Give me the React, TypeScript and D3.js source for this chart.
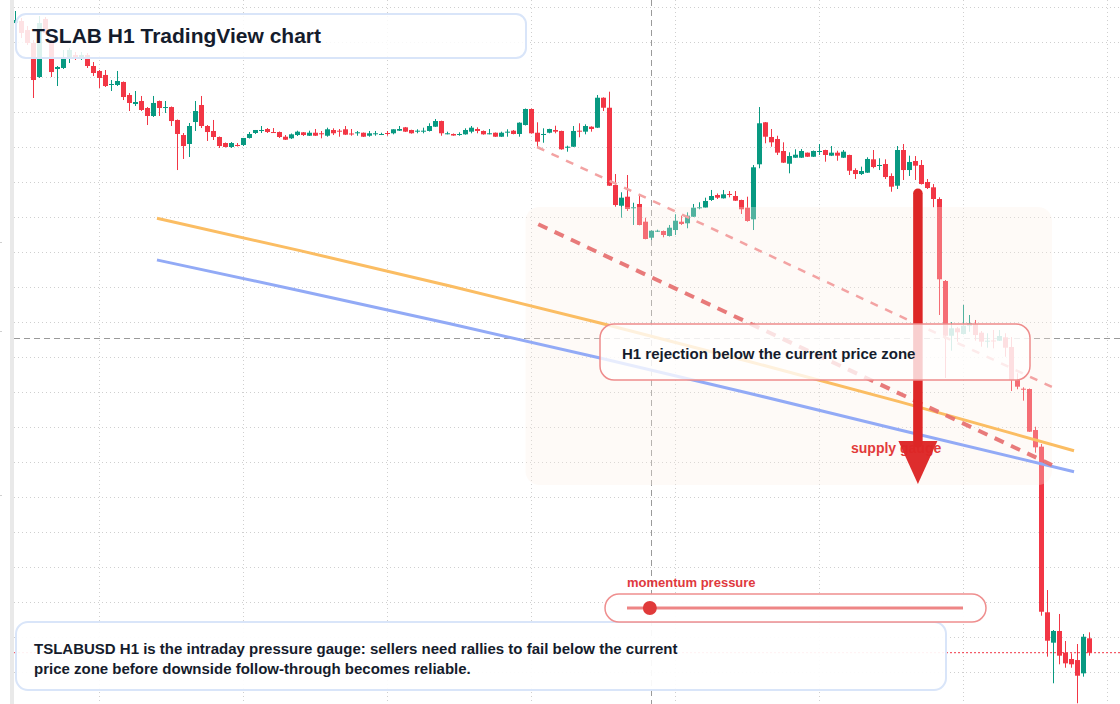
import React from 'react';
import * as d3 from 'd3';

const W = 1120;
const H = 704;

// Hourly OHLC bars, index 0..179 (prices)
const opens = [437.71,438,436.71,434.86,430,438.29,434.86,431.14,431.29,432.71,433.14,432.57,433.14,431.57,430.86,430.29,428.93,428.86,429.29,427.43,426.14,426.57,425.57,424.43,426.57,425.64,425.71,423.86,421.71,420.43,423.57,426,423,422.29,421.43,420.57,420,420.29,420.29,421.29,422,422.29,422.57,422.14,422.14,421.47,421.24,421.71,422.1,421.61,422.04,421.96,421.61,422.43,422.33,422.53,421.93,422.04,422.04,421.61,421.9,421.81,422,421.96,422.33,422.81,422.43,422.29,422.29,422.29,422.9,423.71,421.9,421.86,421.81,421.81,422.19,422.57,422.29,421.9,422.04,421.47,422.14,422.33,421.86,423.14,425.43,422.04,421.81,422.04,422.43,422.29,420,420.04,422.33,422.19,422.9,422.76,427.04,425.61,414.57,411.61,412.9,411.34,411.86,409.33,407.04,407.96,408,407.29,408.14,409.33,409.1,410.04,411.33,411.33,412.43,413.14,412.67,413.29,413,412.43,411.33,409.67,417.53,423.53,421.43,421.14,419.43,417.61,418.47,418.47,419.19,418.61,419.39,419.57,418.76,419.19,418.47,418.86,416.71,416.14,416.33,418.24,417.39,417.57,415.86,414.47,419.57,416.71,418,417.43,415,414.24,412.57,400.86,393.04,394.1,393.29,394.47,394.71,393.47,392.29,392.36,392.33,392.81,391.43,386.71,385.47,385.43,379.57,377.19,353.53,349.19,350.86,347.76,346.86,346.71,344.81,349.81];
const highs = [439.43,438.43,437.29,435.29,438.71,438.57,435.29,431.57,433.86,434.14,433.57,433.57,433.43,432.14,431,431,429.57,430.86,429.36,427.71,428,427.29,425.71,427.29,426.64,426.57,425.79,423.93,422,423.43,426.57,427.29,423.14,423.86,421.5,420.64,420.71,420.57,421.29,422.14,422.43,423,422.71,422.71,422.21,421.71,421.93,422.33,422.14,422.33,422.57,422.29,422.76,422.67,422.57,423,422.57,422.29,422.07,422.29,422.29,422.04,422.29,422.53,423,422.86,422.47,422.53,422.76,423.39,424,423.76,422.19,421.93,422.1,422.67,423,422.81,422.36,422.57,422.07,422.19,422.53,422.43,423.53,425.5,425.5,423.53,422.67,422.61,423.04,422.33,420.19,423,423.39,423.24,422.96,427.43,427.1,427.9,416.14,413.53,416,412.04,413.04,409.9,408.07,408.19,408.07,408.86,410.39,410.19,410.67,411.86,412.1,412.76,413.86,413.36,413.86,413.71,413.71,412.47,412.9,417.43,425.71,423.57,422.57,421.61,420.67,419.24,419.67,419.71,419.21,419.5,420.43,419.61,420.14,419.47,419.57,418.9,416.96,417.19,418.53,419.57,418.39,418.24,416.24,420.14,420.43,418.76,418.71,418.14,415.43,414.71,412.81,401,395,394.29,397.43,396,395.29,393.71,393.39,393.86,393.86,393.39,392.86,387.67,385.67,385.5,380.04,377.57,356.71,351,353.29,349.43,347.67,349,350.43,350.67];
const lows = [437.57,435.57,434.57,427,429.86,436,430,428.71,431.14,432,432.43,432.43,431.29,430.14,428.43,428.57,428,428.71,426.71,425.14,425.86,425.14,423.14,424.29,424.43,424.86,423,416.71,418.29,418.57,422.29,422.71,420.86,421,419.86,419.93,419.86,420.07,420.14,421.21,421.86,422,422,422,421.29,421,421.14,421.57,421.57,421.57,421.57,421.24,421.47,421.71,421.47,421.71,421.61,421.61,421.43,421.47,421.61,421.71,421.61,421.81,422.29,422.14,421.91,421.96,421.96,422.21,422.86,421.61,421.81,421.61,421.61,421.76,421.96,421.96,421.76,421.81,421.43,421.43,421.47,421.81,421.47,423.07,421.9,420.04,420.61,421.96,421.96,419.61,419.33,420,421.39,421.81,422.19,422.71,425.14,414.43,411.47,409.9,410.86,408.86,408.81,406.81,406.71,407.86,407.1,407.21,407.43,408.86,408.39,410,411.1,411.29,412.29,412.57,412.64,412.81,412.29,410.43,409.33,408.14,416.96,420.53,420.04,418.86,417.71,416.24,418.43,418.43,418.57,418.57,418.86,417.9,418.71,418.04,418.43,416,415.43,416,416.29,416.96,416.71,415.43,413.61,414,415.29,415.86,415.29,414.64,414,411.39,396,387,390.9,392.19,393.21,393.61,392.33,391.47,391.33,391.24,392.29,390.04,385.14,385.39,383.76,379.29,376.33,353.04,347.19,343.39,346.1,345.61,345.61,340.53,344.33,347.33];
const closes = [438.14,436.29,434.86,429.57,437.71,436.29,430.71,431.43,432.71,433.86,432.86,433.14,431.57,430.57,429.86,428.71,429,429.43,427.14,426.29,426.43,425.29,424.43,426.29,425.57,425.71,423.71,421.86,420.14,423,425.14,423,422.14,421.43,420.14,420,420.57,420.14,421.29,421.86,422.43,422.43,422.14,422.07,421.43,421.04,421.81,422.19,421.71,422.04,421.61,421.9,422.53,421.96,422.24,421.76,421.86,422.1,421.47,421.96,421.96,421.86,421.96,422.53,422.57,422.19,421.96,422.33,422.33,423,423.71,421.96,421.96,421.64,421.86,422.43,422.76,422.29,421.81,421.96,421.47,422.04,422.19,421.86,423.47,425.43,421.96,420.76,421.86,422.57,422.19,419.67,420.04,422.29,422.24,423,422.57,427.04,425.61,414.47,411.71,412.76,411.14,411.39,408.86,406.86,408.04,408.04,407.43,408.47,409.47,409,410.19,411.33,411.39,412.29,413,412.76,413.24,413.21,412.33,411.1,409.43,417.1,423.39,421.47,420.67,419.19,417.76,418.71,418.9,419.43,418.61,419.43,419.43,418.86,419.19,418.76,419.33,416.61,416.14,416.57,418.29,417.14,417.43,415.71,414.33,419.57,416.71,417.86,417.33,414.71,414.14,412.57,401.1,393.04,394.1,393.53,394.47,394.81,393.14,392.19,392.33,392.29,393,391.33,386.71,385.76,385.39,379.33,377.1,353.61,349.47,350.86,347.33,346.24,346.1,344.47,350.04,347.76];

// Smoothed average overlays (bar index, price)
const maIndex = [23.58, 47.42, 72.42, 97.42, 122.42, 147.42, 176.42];
const orangeMA = [409.81, 405.2, 400.14, 394.86, 389.33, 383.59, 376.61];
const blueMA = [403.86, 399.47, 394.74, 389.87, 384.79, 379.57, 373.61];

// Trend lines [start index, start price, end index, end price]
const upperTrend = [86.92, 420.0, 172.75, 385.71];
const lowerTrend = [87.13, 408.96, 172.75, 374.57];

// Supply zone
const zoneIdx = [85.0, 172.75];
const zonePrice = [411.43, 371.71];

// Arrow (bar index, top price, head price, tip price)
const arrowIdx = 150.4;
const arrowPrices = [413.39, 378.0, 371.86];

// Grid / crosshair
const gridPriceTop = 440;
const gridPriceBottom = 345;
const gridStep = 5;
const gridBarIdx = [14, 38, 62, 86, 110, 134, 158, 182];
const crossIdx = 106;
const crossPrice = 392.71;

const momentumValue = 0.068;

const titleText = 'TSLAB H1 TradingView chart';
const noteText = 'H1 rejection below the current price zone';
const zoneLabel = 'supply gauge';
const momentumLabel = 'momentum pressure';
const footerLines = [
  'TSLABUSD H1 is the intraday pressure gauge: sellers need rallies to fail below the current',
  'price zone before downside follow-through becomes reliable.',
];

const RED = '#f23645';
const GREEN = '#089981';
const FONT = '"Liberation Sans", Arial, Helvetica, sans-serif';
const DARK = '#151c2c';

export default function App() {
  const x = d3.scaleLinear().domain([0, 179]).range([15.5, 1089.5]);
  const y = d3.scaleLinear().domain([340.43, 441]).range([704, 0]);
  const gridPrices = d3.range(gridPriceTop, gridPriceBottom - 0.01, -gridStep);

  const line = d3
    .line<number>()
    .x((_, i) => x(maIndex[i]))
    .curve(d3.curveMonotoneX);
  const orangePath = line.y((d) => y(d))(orangeMA) as string;
  const bluePath = line.y((d) => y(d))(blueMA) as string;

  const mScale = d3.scaleLinear().domain([0, 1]).range([627, 963]);

  const ax = x(arrowIdx);
  const aTop = y(arrowPrices[0]);
  const aBase = y(arrowPrices[1]);
  const aTip = y(arrowPrices[2]);

  const lastClose = closes[closes.length - 1];

  return (
    <svg
      width={W}
      height={H}
      style={{ position: 'fixed', left: 0, top: 0, background: '#fff', fontFamily: FONT }}
    >
      <defs>
        <clipPath id="plot">
          <rect x={14} y={0} width={W - 14} height={H} />
        </clipPath>
      </defs>
      <rect x={0} y={0} width={W} height={H} fill="#fff" />
      <rect x={10} y={0} width={4} height={H} fill="#e9e9e9" />
      {[242, 331, 495].map((t) => (
        <line key={t} x1={0} x2={2} y1={t + 0.5} y2={t + 0.5} stroke="#d0d0d0" />
      ))}

      <g clipPath="url(#plot)">
        {gridPrices.map((p) => (
          <line
            key={'h' + p}
            x1={14}
            x2={W}
            y1={Math.round(y(p)) + 0.5}
            y2={Math.round(y(p)) + 0.5}
            stroke="#cfcfcf"
            strokeDasharray="1 3"
          />
        ))}
        {gridBarIdx.map((b) => (
          <line
            key={'v' + b}
            x1={x(b)}
            x2={x(b)}
            y1={0}
            y2={H}
            stroke="#cfcfcf"
            strokeDasharray="1 3"
          />
        ))}

        <line
          x1={x(crossIdx)}
          x2={x(crossIdx)}
          y1={0}
          y2={H}
          stroke="#9a9a9a"
          strokeDasharray="6 4"
        />
        <line
          x1={14}
          x2={W}
          y1={Math.round(y(crossPrice)) + 0.5}
          y2={Math.round(y(crossPrice)) + 0.5}
          stroke="#9a9a9a"
          strokeDasharray="6 4"
        />

        <line
          x1={14}
          x2={W}
          y1={y(lastClose)}
          y2={y(lastClose)}
          stroke={RED}
          strokeDasharray="2 2"
        />

        {opens.map((o, i) => {
          const c = closes[i];
          const col = c >= o ? GREEN : RED;
          const xc = x(i);
          const yt = y(Math.max(o, c));
          const yb = y(Math.min(o, c));
          return (
            <g key={i}>
              <line x1={xc} x2={xc} y1={y(highs[i])} y2={y(lows[i])} stroke={col} strokeWidth={1} />
              <rect x={xc - 2.5} y={yt} width={5} height={Math.max(1, yb - yt)} fill={col} />
            </g>
          );
        })}

        <rect
          x={x(zoneIdx[0])}
          y={y(zonePrice[0])}
          width={x(zoneIdx[1]) - x(zoneIdx[0])}
          height={y(zonePrice[1]) - y(zonePrice[0])}
          rx={14}
          fill="#fdf0e6"
          fillOpacity={0.3}
        />

        <path d={orangePath} fill="none" stroke="#fbbd63" strokeWidth={3} />
        <path d={bluePath} fill="none" stroke="#92aaf6" strokeWidth={3} />

        <line
          x1={x(upperTrend[0])}
          y1={y(upperTrend[1])}
          x2={x(upperTrend[2])}
          y2={y(upperTrend[3])}
          stroke="#f3a3a3"
          strokeWidth={2.5}
          strokeDasharray="8 8"
        />
        <line
          x1={x(lowerTrend[0])}
          y1={y(lowerTrend[1])}
          x2={x(lowerTrend[2])}
          y2={y(lowerTrend[3])}
          stroke="#e66b6b"
          strokeWidth={4}
          strokeDasharray="10 8"
          strokeOpacity={0.9}
        />
      </g>

      <text x={851} y={452.5} fontSize={14} fontWeight="bold" fill="#e23b3b">
        {zoneLabel}
      </text>

      <line
        x1={ax}
        x2={ax}
        y1={aTop}
        y2={aBase + 2}
        stroke="#dd2626"
        strokeWidth={9.5}
        strokeLinecap="round"
      />
      <path
        d={`M${ax - 19.5},${aBase} L${ax + 19.5},${aBase} L${ax},${aTip} Z`}
        fill="#dd2626"
        fillOpacity={0.97}
      />

      <rect
        x={600}
        y={324}
        width={430}
        height={56}
        rx={14}
        fill="#fff"
        fillOpacity={0.78}
        stroke="#ee8c8c"
        strokeWidth={1.5}
      />
      <text x={622} y={358.5} fontSize={15} fontWeight="bold" fill={DARK}>
        {noteText}
      </text>

      <rect
        x={16}
        y={14}
        width={510}
        height={44}
        rx={10}
        fill="#fff"
        fillOpacity={0.86}
        stroke="#d9e5f9"
        strokeWidth={2}
      />
      <text x={32} y={43.3} fontSize={21} fontWeight="bold" fill={DARK}>
        {titleText}
      </text>

      <rect
        x={16}
        y={622}
        width={930}
        height={68}
        rx={12}
        fill="#fff"
        fillOpacity={0.93}
        stroke="#d9e5f9"
        strokeWidth={2}
      />
      {footerLines.map((t, i) => (
        <text key={i} x={34} y={654 + i * 20} fontSize={15} fontWeight="bold" fill={DARK}>
          {t}
        </text>
      ))}

      <text x={627} y={587} fontSize={13} fontWeight="bold" fill="#e0393e">
        {momentumLabel}
      </text>
      <rect
        x={605}
        y={594}
        width={381}
        height={28}
        rx={14}
        fill="#fff"
        fillOpacity={0.95}
        stroke="#ef8f8f"
        strokeWidth={1.5}
      />
      <line x1={mScale(0)} x2={mScale(1)} y1={608} y2={608} stroke="#ee8585" strokeWidth={3} />
      <circle cx={mScale(momentumValue)} cy={608} r={7} fill="#e03a3a" />
    </svg>
  );
}
